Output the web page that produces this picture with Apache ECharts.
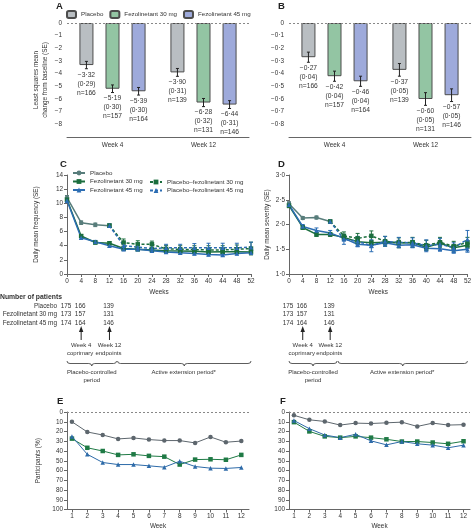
<!DOCTYPE html>
<html><head><meta charset="utf-8">
<script src="https://cdn.jsdelivr.net/npm/echarts@6/dist/echarts.min.js"></script>
<style>html,body{margin:0;padding:0;background:#fff}#c{width:474px;height:531px}</style>
</head><body><div id="c"></div>
<script>
// ---------------- DATA ----------------
const barCategories = ['Week 4', 'Week 12'];
const groupNames = ['Placebo', 'Fezolinetant 30 mg', 'Fezolinetant 45 mg'];
// Panel A: frequency change (LS mean), SE, n  [placebo, 30 mg, 45 mg] x [wk4, wk12]
const freqChange = [[-3.32, -3.90], [-5.19, -6.28], [-5.39, -6.44]];
const freqSE = [[0.29, 0.31], [0.30, 0.32], [0.30, 0.31]];
const groupN = [[166, 139], [157, 131], [164, 146]];
// Panel B: severity change
const sevChange = [[-0.27, -0.37], [-0.42, -0.60], [-0.46, -0.57]];
const sevSE = [[0.04, 0.05], [0.04, 0.05], [0.04, 0.05]];

// Panel C/D: weeks
const weeksPlacebo = [0, 4, 8, 12];
const weeksAll = [0, 4, 8, 12, 16, 20, 24, 28, 32, 36, 40, 44, 48, 52];
const weeksExt = [12, 16, 20, 24, 28, 32, 36, 40, 44, 48, 52];
const lineNames = ['Placebo', 'Fezolinetant 30 mg', 'Fezolinetant 45 mg', 'Placebo\u2013fezolinetant 30 mg', 'Placebo\u2013fezolinetant 45 mg'];
// Panel C: daily mean frequency
const freqPlacebo = [10.8, 7.26, 6.95, 6.83];
const freqPlaceboSE = [0.3, 0.25, 0.25, 0.25];
const freqF30 = [10.5, 5.37, 4.45, 4.35, 3.6, 3.5, 3.4, 3.3, 3.25, 3.2, 3.1, 3.15, 3.15, 3.1];
const freqF30SE = [0.3, 0.2, 0.2, 0.2, 0.2, 0.2, 0.2, 0.2, 0.2, 0.2, 0.2, 0.2, 0.2, 0.25];
const freqF45 = [10.4, 5.13, 4.55, 4.0, 3.5, 3.5, 3.3, 3.1, 3.0, 2.9, 2.75, 2.7, 2.9, 3.0];
const freqF45SE = [0.3, 0.2, 0.2, 0.2, 0.2, 0.2, 0.2, 0.2, 0.2, 0.2, 0.2, 0.2, 0.2, 0.25];
const freqPF30 = [6.83, 4.45, 4.2, 4.2, 3.55, 3.5, 3.45, 3.4, 3.4, 3.5, 3.6];
const freqPF30SE = [0.25, 0.5, 0.5, 0.45, 0.5, 0.5, 0.55, 0.6, 0.6, 0.6, 0.9];
const freqPF45 = [6.83, 4.0, 3.8, 3.6, 3.7, 3.7, 3.7, 3.7, 3.7, 3.7, 3.8];
const freqPF45SE = [0.25, 0.5, 0.5, 0.5, 0.5, 0.5, 0.6, 0.65, 0.65, 0.65, 0.7];
// Panel D: daily mean severity
const sevPlacebo = [2.42, 2.13, 2.14, 2.06];
const sevPlaceboSE = [0.04, 0.03, 0.03, 0.03];
const sevF30 = [2.38, 1.94, 1.80, 1.80, 1.74, 1.65, 1.63, 1.64, 1.63, 1.63, 1.54, 1.62, 1.53, 1.58];
const sevF30SE = [0.04, 0.04, 0.04, 0.04, 0.05, 0.05, 0.05, 0.05, 0.05, 0.05, 0.05, 0.05, 0.05, 0.06];
const sevF45 = [2.40, 1.96, 1.88, 1.83, 1.72, 1.60, 1.58, 1.63, 1.58, 1.59, 1.52, 1.51, 1.47, 1.50];
const sevF45SE = [0.04, 0.04, 0.05, 0.05, 0.05, 0.05, 0.05, 0.05, 0.05, 0.05, 0.05, 0.05, 0.05, 0.06];
const sevPF30 = [2.06, 1.77, 1.72, 1.77, 1.66, 1.63, 1.64, 1.58, 1.64, 1.56, 1.64];
const sevPF30SE = [0.03, 0.08, 0.1, 0.1, 0.1, 0.1, 0.1, 0.1, 0.1, 0.1, 0.1];
const sevPF45 = [2.06, 1.70, 1.66, 1.57, 1.66, 1.64, 1.63, 1.57, 1.60, 1.53, 1.70];
const sevPF45SE = [0.03, 0.1, 0.1, 0.12, 0.1, 0.1, 0.1, 0.12, 0.12, 0.1, 0.18];

// Patients
const patientWeeks = [0, 4, 12];
const patientCounts = [[175, 166, 139], [173, 157, 131], [174, 164, 146]];

// Panel E/F: weekly participants (%)
const weekNums = [1, 2, 3, 4, 5, 6, 7, 8, 9, 10, 11, 12];
const ePlacebo = [10, 20.5, 23.6, 27.6, 26.6, 28.3, 29.3, 29.3, 31.7, 25.6, 31, 29.8];
const eF30 = [27.3, 36.7, 40, 44, 43.4, 45, 45.8, 53.9, 48.8, 48.5, 49, 44];
const eF45 = [25, 43.4, 51.8, 53.9, 53.9, 55.2, 56.6, 50.5, 55.9, 57.6, 57.9, 56.9];
const fPlacebo = [3.4, 8, 9.7, 13.4, 11.4, 11.8, 11.1, 10.4, 14.8, 11.4, 13.4, 13];
const fF30 = [10.4, 19.9, 25, 26.3, 25, 26.3, 28, 30.3, 30.3, 31.3, 32.6, 30];
const fF45 = [8.7, 17.1, 23.6, 26.3, 22.9, 29.6, 33.7, 30.3, 32.6, 34, 36.7, 34];

// ---------------- STYLE ----------------
const FONT = "'Liberation Sans',Arial,sans-serif";
const TXT = '#333';
const AX = '#666';
const FS = 6.4;
const BAR_COL = ['#b9bec2', '#93c5a3', '#9eaadb'];
const LINE_COL = ['#587d7b', '#1b6e3e', '#2c6db3', '#1b6e3e', '#2c6db3'];
const LINE_SYM = ['circle', 'rect', 'triangle', 'rect', 'triangle'];
const EF_COL = ['#5d666d', '#1f7a45', '#2d6aa8'];
const BAR_FRAC = 0.154, BAR_GAP = 0.86;

function fmt(v, d) {
  const s = Math.abs(v).toFixed(d).replace('.', '\u00b7');
  return (v < -1e-9 ? '\u2212' : '') + s;
}
const pairs = (xs, ys) => xs.map((x, i) => [x, ys[i]]);
const triples = (xs, ys, es) => xs.map((x, i) => [x, ys[i], es[i]]);

const grids = [
  { left: 67, top: 23, width: 182, height: 114 },
  { left: 289, top: 23, width: 182, height: 114 },
  { left: 67, top: 175, width: 184, height: 99 },
  { left: 289, top: 175, width: 182, height: 99 },
  { left: 67, top: 412, width: 182, height: 99 },
  { left: 289, top: 412, width: 181, height: 99 }
];

function axBase(gi, extra) {
  return Object.assign({
    gridIndex: gi,
    axisLine: { onZero: false, lineStyle: { color: AX, width: 1 } },
    axisTick: { length: 3, lineStyle: { color: AX } },
    axisLabel: { fontSize: FS, color: TXT, fontFamily: FONT, margin: 4 },
    splitLine: { show: false },
    nameTextStyle: { fontSize: FS, color: TXT, fontFamily: FONT, lineHeight: 8.5 }
  }, extra);
}

const xAxes = [
  axBase(0, { type: 'category', data: barCategories, axisTick: { length: 3, alignWithLabel: false, lineStyle: { color: AX } }, axisLabel: { fontSize: FS, color: TXT, fontFamily: FONT, margin: 5 } }),
  axBase(1, { type: 'category', data: barCategories, axisTick: { length: 3, alignWithLabel: false, lineStyle: { color: AX } }, axisLabel: { fontSize: FS, color: TXT, fontFamily: FONT, margin: 5 } }),
  axBase(2, { type: 'value', min: 0, max: 52, interval: 4, name: 'Weeks', nameLocation: 'middle', nameGap: 14 }),
  axBase(3, { type: 'value', min: 0, max: 52, interval: 4, name: 'Weeks', nameLocation: 'middle', nameGap: 14 }),
  axBase(4, { type: 'value', min: 0.68, max: 12.5, name: 'Week', nameLocation: 'middle', nameGap: 12,
    axisTick: { length: 3, lineStyle: { color: AX }, customValues: weekNums },
    axisLabel: { fontSize: FS, color: TXT, fontFamily: FONT, margin: 4, customValues: weekNums } }),
  axBase(5, { type: 'value', min: 0.68, max: 12.42, name: 'Week', nameLocation: 'middle', nameGap: 12,
    axisTick: { length: 3, lineStyle: { color: AX }, customValues: weekNums },
    axisLabel: { fontSize: FS, color: TXT, fontFamily: FONT, margin: 4, customValues: weekNums } })
];

const yAxes = [
  axBase(0, { type: 'value', min: -9, max: 0, interval: 1, name: 'Least squares mean\nchange from baseline (SE)', nameLocation: 'middle', nameGap: 18,
    axisLabel: { fontSize: FS, color: TXT, fontFamily: FONT, margin: 5, formatter: v => v <= -8.5 ? '' : fmt(v, 0) } }),
  axBase(1, { type: 'value', min: -0.9, max: 0, interval: 0.1,
    axisLabel: { fontSize: FS, color: TXT, fontFamily: FONT, margin: 5, formatter: v => v <= -0.85 ? '' : (Math.abs(v) < 1e-9 ? '0' : fmt(v, 1)) } }),
  axBase(2, { type: 'value', min: 0, max: 14, interval: 2, name: 'Daily mean frequency (SE)', nameLocation: 'middle', nameGap: 27 }),
  axBase(3, { type: 'value', min: 1, max: 3, interval: 0.5, name: 'Daily mean severity (SE)', nameLocation: 'middle', nameGap: 18,
    axisLabel: { fontSize: FS, color: TXT, fontFamily: FONT, margin: 4, formatter: v => fmt(v, 1) } }),
  axBase(4, { type: 'value', min: 0, max: 100, interval: 10, inverse: true, name: 'Participants (%)', nameLocation: 'middle', nameGap: 25 }),
  axBase(5, { type: 'value', min: 0, max: 100, interval: 10, inverse: true })
];

const zeroLine = {
  silent: true, symbol: 'none', label: { show: false },
  lineStyle: { type: [2, 2], color: '#888', width: 1 },
  data: [{ yAxis: 0 }], animation: false
};

const series = [];
// Bars
function addBars(gi, vals, ses, dec) {
  for (let i = 0; i < 3; i++) {
    const s = {
      type: 'bar', name: groupNames[i], xAxisIndex: gi, yAxisIndex: gi,
      data: vals[i], barWidth: (BAR_FRAC * 100) + '%', barGap: (BAR_GAP * 100) + '%',
      itemStyle: { color: BAR_COL[i], borderColor: '#4d4d4d', borderWidth: 1 },
      silent: true, animation: false
    };
    if (i === 0) s.markLine = zeroLine;
    series.push(s);
  }
  for (let i = 0; i < 3; i++) {
    series.push({
      type: 'custom', xAxisIndex: gi, yAxisIndex: gi, silent: true, z: 5, animation: false,
      data: vals[i].map((v, k) => [k, v, ses[i][k], groupN[i][k]]),
      encode: { x: 0, y: 1 },
      renderItem: function (params, api) {
        const k = api.value(0), v = api.value(1), se = api.value(2), n = api.value(3);
        const catW = api.size([1, 0])[0];
        const off = (i - 1) * catW * BAR_FRAC * (1 + BAR_GAP);
        const top = api.coord([k, v + se]);
        const bot = api.coord([k, v - se]);
        const x = top[0] + off;
        return {
          type: 'group', children: [
            { type: 'line', shape: { x1: x, y1: top[1], x2: x, y2: bot[1] }, style: { stroke: '#222', lineWidth: 1 } },
            { type: 'line', shape: { x1: x - 1.5, y1: top[1], x2: x + 1.5, y2: top[1] }, style: { stroke: '#222', lineWidth: 1 } },
            { type: 'line', shape: { x1: x - 1.5, y1: bot[1], x2: x + 1.5, y2: bot[1] }, style: { stroke: '#222', lineWidth: 1 } },
            { type: 'text', style: { x: x, y: bot[1] + 1.5, text: fmt(v, dec) + '\n(' + fmt(se, dec) + ')\nn=' + n, align: 'center', verticalAlign: 'top', fontSize: FS + 0.3, lineHeight: 9, fontFamily: FONT, fill: TXT } }
          ]
        };
      }
    });
  }
}
addBars(0, freqChange, freqSE, 2);
addBars(1, sevChange, sevSE, 2);

// Lines with error bars
function errBars(gi, data, color) {
  return {
    type: 'custom', xAxisIndex: gi, yAxisIndex: gi, silent: true, z: 2, animation: false,
    data: data.map(d => [d[0], d[1] - d[2], d[1] + d[2]]),
    encode: { x: 0, y: [1, 2] },
    renderItem: function (params, api) {
      const x = api.value(0);
      const lo = api.coord([x, api.value(1)]);
      const hi = api.coord([x, api.value(2)]);
      const w = 2;
      const st = { stroke: color, lineWidth: 1 };
      return {
        type: 'group', children: [
          { type: 'line', shape: { x1: lo[0], y1: lo[1], x2: hi[0], y2: hi[1] }, style: st },
          { type: 'line', shape: { x1: lo[0] - w, y1: lo[1], x2: lo[0] + w, y2: lo[1] }, style: st },
          { type: 'line', shape: { x1: hi[0] - w, y1: hi[1], x2: hi[0] + w, y2: hi[1] }, style: st }
        ]
      };
    }
  };
}
function lineS(name, gi, data, color, symbol, dashed, width, size) {
  return {
    type: 'line', name: name, xAxisIndex: gi, yAxisIndex: gi, data: data,
    symbol: symbol, symbolSize: size || 4.5, showSymbol: true,
    lineStyle: { color: color, width: width || 1.5, type: dashed ? [3, 2] : 'solid' },
    itemStyle: { color: color }, z: 3, silent: true, animation: false
  };
}
function addPanel(gi, sets, suffix) {
  sets.forEach((s, j) => {
    series.push(errBars(gi, triples(s[0], s[1], s[2]), LINE_COL[j]));
    series.push(lineS(lineNames[j] + suffix, gi, pairs(s[0], s[1]), LINE_COL[j], LINE_SYM[j], j >= 3));
  });
}
addPanel(2, [
  [weeksPlacebo, freqPlacebo, freqPlaceboSE],
  [weeksAll, freqF30, freqF30SE],
  [weeksAll, freqF45, freqF45SE],
  [weeksExt, freqPF30, freqPF30SE],
  [weeksExt, freqPF45, freqPF45SE]
], ' ');
addPanel(3, [
  [weeksPlacebo, sevPlacebo, sevPlaceboSE],
  [weeksAll, sevF30, sevF30SE],
  [weeksAll, sevF45, sevF45SE],
  [weeksExt, sevPF30, sevPF30SE],
  [weeksExt, sevPF45, sevPF45SE]
], '  ');

// E / F
const efSets = [[ePlacebo, eF30, eF45], [fPlacebo, fF30, fF45]];
efSets.forEach((set, p) => {
  set.forEach((vals, j) => {
    const s = lineS(['E', 'F'][p] + groupNames[j], 4 + p, pairs(weekNums, vals), EF_COL[j], ['circle', 'rect', 'triangle'][j], false, 1, 4.5);
    if (j === 0) s.markLine = zeroLine;
    series.push(s);
  });
});

const legTxt = { fontSize: 6.2, color: TXT, fontFamily: FONT };
const option = {
  animation: false,
  grid: grids,
  xAxis: xAxes,
  yAxis: yAxes,
  legend: [
    { data: groupNames, left: 66, top: 10, itemWidth: 9, itemHeight: 7, itemGap: 6, textStyle: legTxt, selectedMode: false, padding: 0 },
    { data: lineNames.slice(0, 3).map(n => n + ' '), orient: 'vertical', left: 72, top: 170, itemWidth: 12, itemHeight: 6, itemGap: 2.5, textStyle: legTxt, selectedMode: false, padding: 0 },
    { data: lineNames.slice(3).map(n => n + ' '), orient: 'vertical', left: 149, top: 179, itemWidth: 12, itemHeight: 6, itemGap: 2.5, textStyle: legTxt, selectedMode: false, padding: 0 }
  ],
  series: series
};

const chart = echarts.init(document.getElementById('c'));
chart.setOption(option);

// ---------- annotations below C and D ----------
const g = [];
const T = (x, y, text, o) => g.push(Object.assign({ type: 'text', silent: true, style: Object.assign({ x: x, y: y, text: text, fontSize: FS, fontFamily: FONT, fill: TXT, align: 'left', verticalAlign: 'middle' }, o || {}) }));
[['A', 56, 1], ['B', 278, 1], ['C', 60, 159], ['D', 278, 159], ['E', 57, 396], ['F', 280, 396]].forEach(l =>
  T(l[1], l[2], l[0], { fontSize: 9.5, fontWeight: 'bold', verticalAlign: 'top', fill: '#222' }));

T(0, 297, 'Number of patients', { fontWeight: 'bold', fontSize: 6.8 });
const rowY = [306, 314.5, 323];
groupNames.forEach((n, i) => T(57, rowY[i], n, { align: 'right' }));

const BST = { stroke: '#333', lineWidth: 0.8, fill: 'none' };
function brace(x1, x2, y, h) {
  const xm = (x1 + x2) / 2, m = y + h / 2;
  const q = (ax, ay, cx, cy, bx, by) => g.push({ type: 'bezierCurve', silent: true, shape: { x1: ax, y1: ay, cpx1: cx, cpy1: cy, x2: bx, y2: by }, style: BST });
  const l = (ax, ay, bx, by) => g.push({ type: 'line', silent: true, shape: { x1: ax, y1: ay, x2: bx, y2: by }, style: BST });
  q(x1, y, x1, m, x1 + 3, m);
  l(x1 + 3, m, xm - 3, m);
  q(xm - 3, m, xm, m, xm, y + h);
  q(xm, y + h, xm, m, xm + 3, m);
  l(xm + 3, m, x2 - 3, m);
  q(x2 - 3, m, x2, m, x2, y);
}
[2, 3].forEach(gi => {
  const px = w => chart.convertToPixel({ gridIndex: gi }, [w, 0])[0];
  patientCounts.forEach((row, i) => row.forEach((c, k) => T(px(patientWeeks[k]) - 1, rowY[i], String(c), { align: 'center' })));
  [[4, 'Week 4', 'coprimary'], [12, 'Week 12', 'endpoints']].forEach(a => {
    const x = px(a[0]);
    g.push({ type: 'line', silent: true, shape: { x1: x, y1: 330, x2: x, y2: 340 }, style: { stroke: '#222', lineWidth: 1 } });
    g.push({ type: 'polygon', silent: true, shape: { points: [[x, 326], [x - 2.2, 332], [x + 2.2, 332]] }, style: { fill: '#222' } });
    T(x, 345.5, a[1], { align: 'center', fontSize: 6 });
    T(x - 1, 353.5, a[2], { align: 'center', fontSize: 6 });
  });
  const x0 = px(0), x14 = px(14), x52 = px(52);
  brace(x0, x14, 361, 5);
  brace(x14 + 1, x52, 361, 5);
  T((x0 + x14) / 2, 372, 'Placebo-controlled', { align: 'center', fontSize: 6 });
  T((x0 + x14) / 2, 380, 'period', { align: 'center', fontSize: 6 });
  T((x14 + x52) / 2, 372, 'Active extension period*', { align: 'center', fontSize: 6 });
});
chart.setOption({ graphic: { elements: g } });
</script>
</body></html>
